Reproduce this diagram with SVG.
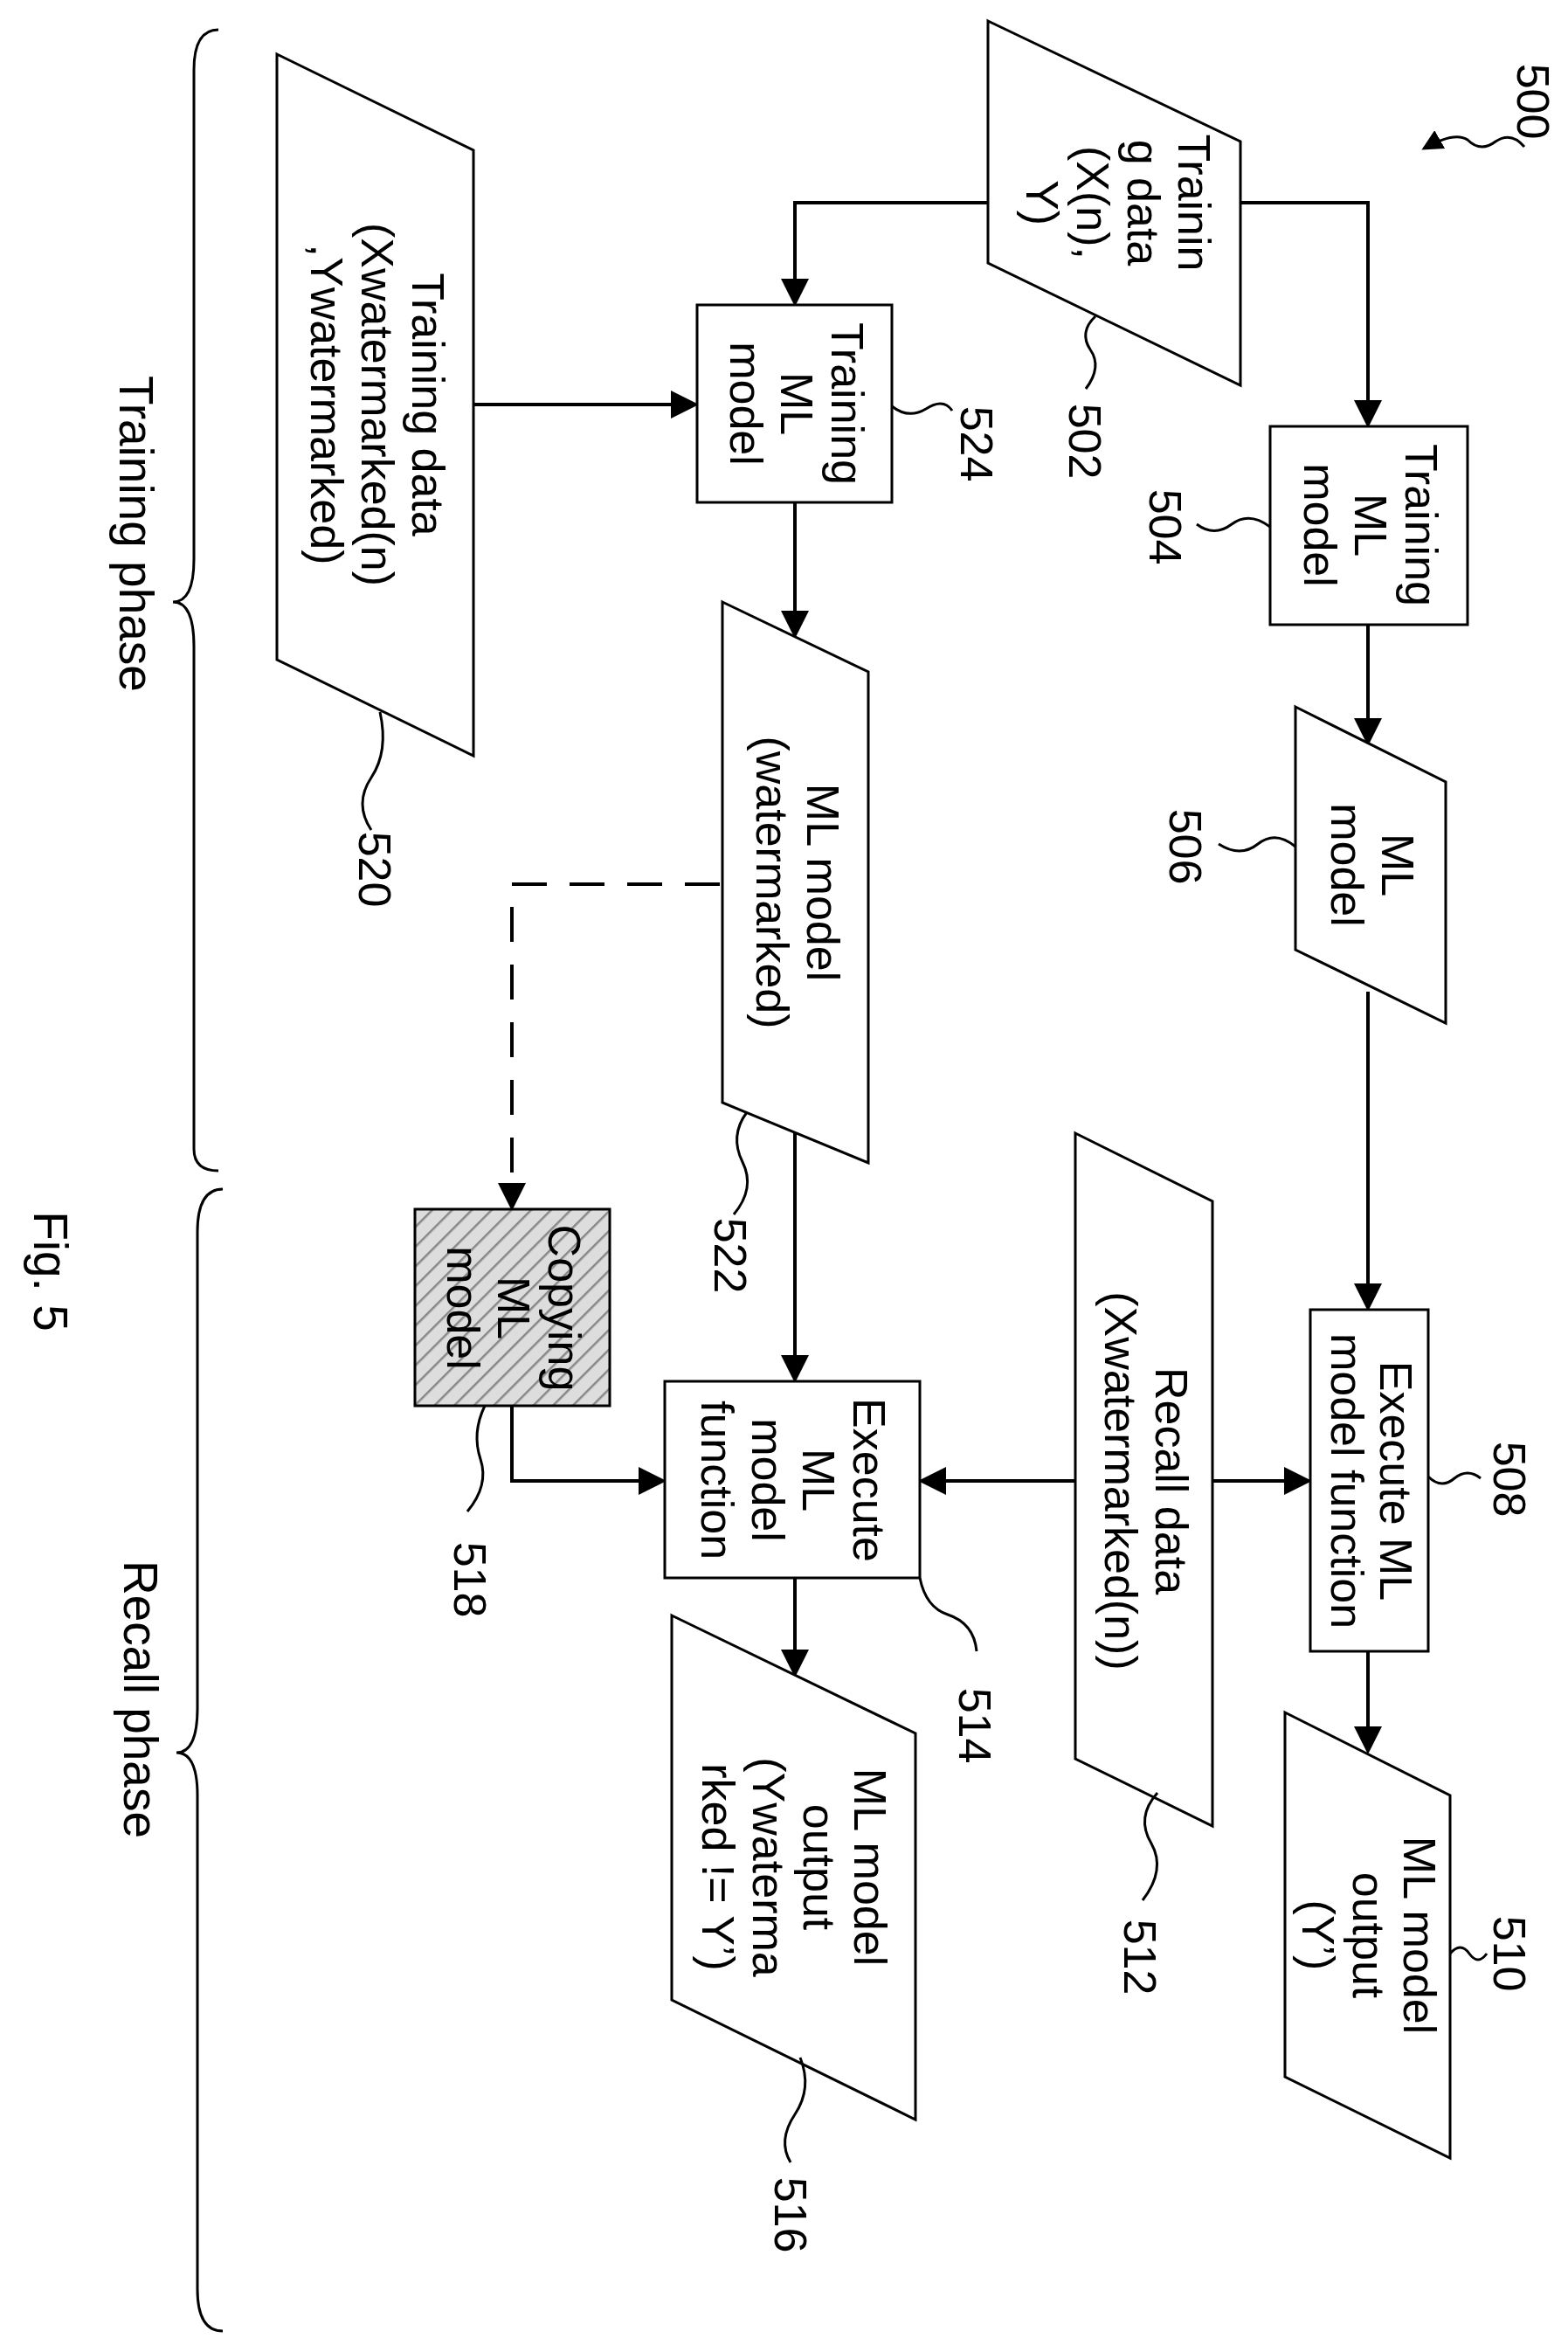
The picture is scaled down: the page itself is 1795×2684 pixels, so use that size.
<svg xmlns="http://www.w3.org/2000/svg" width="1795" height="2684" viewBox="0 0 1795 2684">
<style>
.s{fill:#fff;stroke:#000;stroke-width:3}
.c{fill:none;stroke:#000;stroke-width:4}
.w{fill:none;stroke:#000;stroke-width:3}
text{font-family:"Liberation Sans",Arial,sans-serif;font-size:52px;fill:#000;text-anchor:middle}
.p{font-size:55px}
</style>
<defs>
<marker id="a" markerWidth="8" markerHeight="8" refX="7" refY="4" orient="auto" markerUnits="strokeWidth"><path d="M0,0 L8,4 L0,8 z" fill="#000"/></marker>
<pattern id="h" width="16" height="16" patternUnits="userSpaceOnUse" patternTransform="rotate(45)"><rect width="16" height="16" fill="#ddd"/><line x1="0" y1="0" x2="0" y2="16" stroke="#888" stroke-width="5"/></pattern>
</defs>
<rect width="1795" height="2684" fill="#fff"/>
<g id="connectors">
<path class="c" d="M1131,232 H910 V347" marker-end="url(#a)"/>
<path class="c" d="M1420,232 H1566 V486" marker-end="url(#a)"/>
<path class="c" d="M1566,715 V850" marker-end="url(#a)"/>
<path class="c" d="M1566,1135 V1497" marker-end="url(#a)"/>
<path class="c" d="M1566,1890 V2004" marker-end="url(#a)"/>
<path class="c" d="M1388,1695 H1498" marker-end="url(#a)"/>
<path class="c" d="M1231,1695 H1055" marker-end="url(#a)"/>
<path class="c" d="M542,463 H796" marker-end="url(#a)"/>
<path class="c" d="M910,575 V727" marker-end="url(#a)"/>
<path class="c" d="M910,1296 V1579" marker-end="url(#a)"/>
<path class="c" d="M910,1806 V1916" marker-end="url(#a)"/>
<path class="c" d="M586,1609 V1695 H759" marker-end="url(#a)"/>
<path class="c" d="M824,1012 H586 V1382" stroke-dasharray="40,26" marker-end="url(#a)"/>
<path class="w" d="M1745,168 Q1730,150 1712,162 Q1695,175 1680,160 Q1665,150 1630,170" marker-end="url(#a)"/>
</g>
<g id="n502"><path class="s" d="M1131,24 L1420,162 L1420,441 L1131,301 Z"/>
<text transform="translate(1277,232) rotate(90)"><tspan x="0" y="-72">Trainin</tspan><tspan x="0" dy="58">g data</tspan><tspan x="0" dy="58">(X(n),</tspan><tspan x="0" dy="58">Y)</tspan></text>
<path class="w" d="M1254,362 Q1235,380 1248,400 Q1262,420 1243,445"/>
<text transform="translate(1242,505) rotate(90)" y="18">502</text></g>
<g id="n504"><rect class="s" x="1454" y="488" width="226" height="227"/>
<text transform="translate(1567,601) rotate(90)"><tspan x="0" y="-42">Training</tspan><tspan x="0" dy="58">ML</tspan><tspan x="0" dy="58">model</tspan></text>
<path class="w" d="M1454,603 Q1430,585 1410,600 Q1390,615 1370,600"/>
<text transform="translate(1334,603) rotate(90)" y="18">504</text></g>
<g id="n506"><path class="s" d="M1483,809 L1655,895 L1655,1171 L1483,1087 Z"/>
<text transform="translate(1569,990) rotate(90)"><tspan x="0" y="-13">ML</tspan><tspan x="0" dy="58">model</tspan></text>
<path class="w" d="M1483,969 Q1460,950 1440,966 Q1420,982 1395,966"/>
<text transform="translate(1357,969) rotate(90)" y="18">506</text></g>
<g id="n508"><rect class="s" x="1500" y="1499" width="135" height="391"/>
<text transform="translate(1567,1695) rotate(90)"><tspan x="0" y="-13">Execute ML</tspan><tspan x="0" dy="56">model function</tspan></text>
<path class="w" d="M1635,1690 Q1650,1705 1665,1692 Q1680,1680 1695,1692"/>
<text transform="translate(1728,1693) rotate(90)" y="18">508</text></g>
<g id="n510"><path class="s" d="M1471,1960 L1660,2055 L1660,2470 L1471,2377 Z"/>
<text transform="translate(1565,2215) rotate(90)"><tspan x="0" y="-42">ML model</tspan><tspan x="0" dy="58">output</tspan><tspan x="0" dy="58">(Y’)</tspan></text>
<path class="w" d="M1660,2236 Q1672,2222 1682,2236 Q1692,2250 1702,2236"/>
<text transform="translate(1728,2236) rotate(90)" y="18">510</text></g>
<g id="n512"><path class="s" d="M1231,1297 L1388,1375 L1388,2090 L1231,2013 Z"/>
<text transform="translate(1310,1695) rotate(90)"><tspan x="0" y="-13">Recall data</tspan><tspan x="0" dy="58">(Xwatermarked(n))</tspan></text>
<path class="w" d="M1325,2052 Q1300,2080 1318,2110 Q1335,2140 1308,2175"/>
<text transform="translate(1305,2240) rotate(90)" y="18">512</text></g>
<g id="n514"><rect class="s" x="761" y="1581" width="292" height="225"/>
<text transform="translate(907,1694) rotate(90)"><tspan x="0" y="-70">Execute</tspan><tspan x="0" dy="58">ML</tspan><tspan x="0" dy="58">model</tspan><tspan x="0" dy="58">function</tspan></text>
<path class="w" d="M1053,1806 Q1060,1840 1085,1848 Q1115,1858 1118,1890"/>
<text transform="translate(1116,1975) rotate(90)" y="18">514</text></g>
<g id="n516"><path class="s" d="M769,1849 L1048,1984 L1048,2426 L769,2289 Z"/>
<text transform="translate(908,2137) rotate(90)"><tspan x="0" y="-70">ML model</tspan><tspan x="0" dy="58">output</tspan><tspan x="0" dy="58">(Ywaterma</tspan><tspan x="0" dy="58">rked != Y’)</tspan></text>
<path class="w" d="M916,2355 Q930,2390 910,2420 Q890,2450 905,2475"/>
<text transform="translate(905,2535) rotate(90)" y="18">516</text></g>
<g id="n518"><rect x="475" y="1384" width="223" height="225" fill="url(#h)" stroke="#000" stroke-width="3"/>
<text transform="translate(586,1497) rotate(90)"><tspan x="0" y="-42">Copying</tspan><tspan x="0" dy="58">ML</tspan><tspan x="0" dy="58">model</tspan></text>
<path class="w" d="M555,1609 Q540,1640 550,1670 Q560,1700 535,1730"/>
<text transform="translate(538,1808) rotate(90)" y="18">518</text></g>
<g id="n520"><path class="s" d="M317,62 L542,172 L542,865 L317,755 Z"/>
<text transform="translate(430,463) rotate(90)"><tspan x="0" y="-42">Training data</tspan><tspan x="0" dy="58">(Xwatermarked(n)</tspan><tspan x="0" dy="58">,Ywatermarked)</tspan></text>
<path class="w" d="M435,815 Q445,860 425,890 Q405,920 425,950"/>
<text transform="translate(429,995) rotate(90)" y="18">520</text></g>
<g id="n522"><path class="s" d="M827,689 L994,769 L994,1331 L827,1262 Z"/>
<text transform="translate(911,1010) rotate(90)"><tspan x="0" y="-13">ML model</tspan><tspan x="0" dy="58">(watermarked)</tspan></text>
<path class="w" d="M855,1273 Q835,1300 850,1330 Q865,1360 840,1390"/>
<text transform="translate(836,1437) rotate(90)" y="18">522</text></g>
<g id="n524"><rect class="s" x="798" y="349" width="223" height="226"/>
<text transform="translate(910,462) rotate(90)"><tspan x="0" y="-42">Training</tspan><tspan x="0" dy="58">ML</tspan><tspan x="0" dy="58">model</tspan></text>
<path class="w" d="M1021,465 Q1040,480 1060,468 Q1080,455 1090,470"/>
<text transform="translate(1118,508) rotate(90)" y="18">524</text></g>
<g id="n500"><text transform="translate(1755,116) rotate(90)" y="18">500</text></g>
<g id="phases">
<path class="w" d="M250,34 Q222,34 222,80 L222,640 Q222,689 198,689 Q222,689 222,740 L222,1315 Q222,1340 250,1340"/>
<text class="p" transform="translate(155,611) rotate(90)" y="18">Training phase</text>
<path class="w" d="M255,1361 Q226,1361 226,1410 L226,1955 Q226,2006 202,2006 Q226,2006 226,2055 L226,2620 Q226,2668 255,2668"/>
<text class="p" transform="translate(160,1945) rotate(90)" y="18">Recall phase</text>
<text class="p" transform="translate(57,1455) rotate(90)" y="18">Fig. 5</text>
</g>
</svg>
